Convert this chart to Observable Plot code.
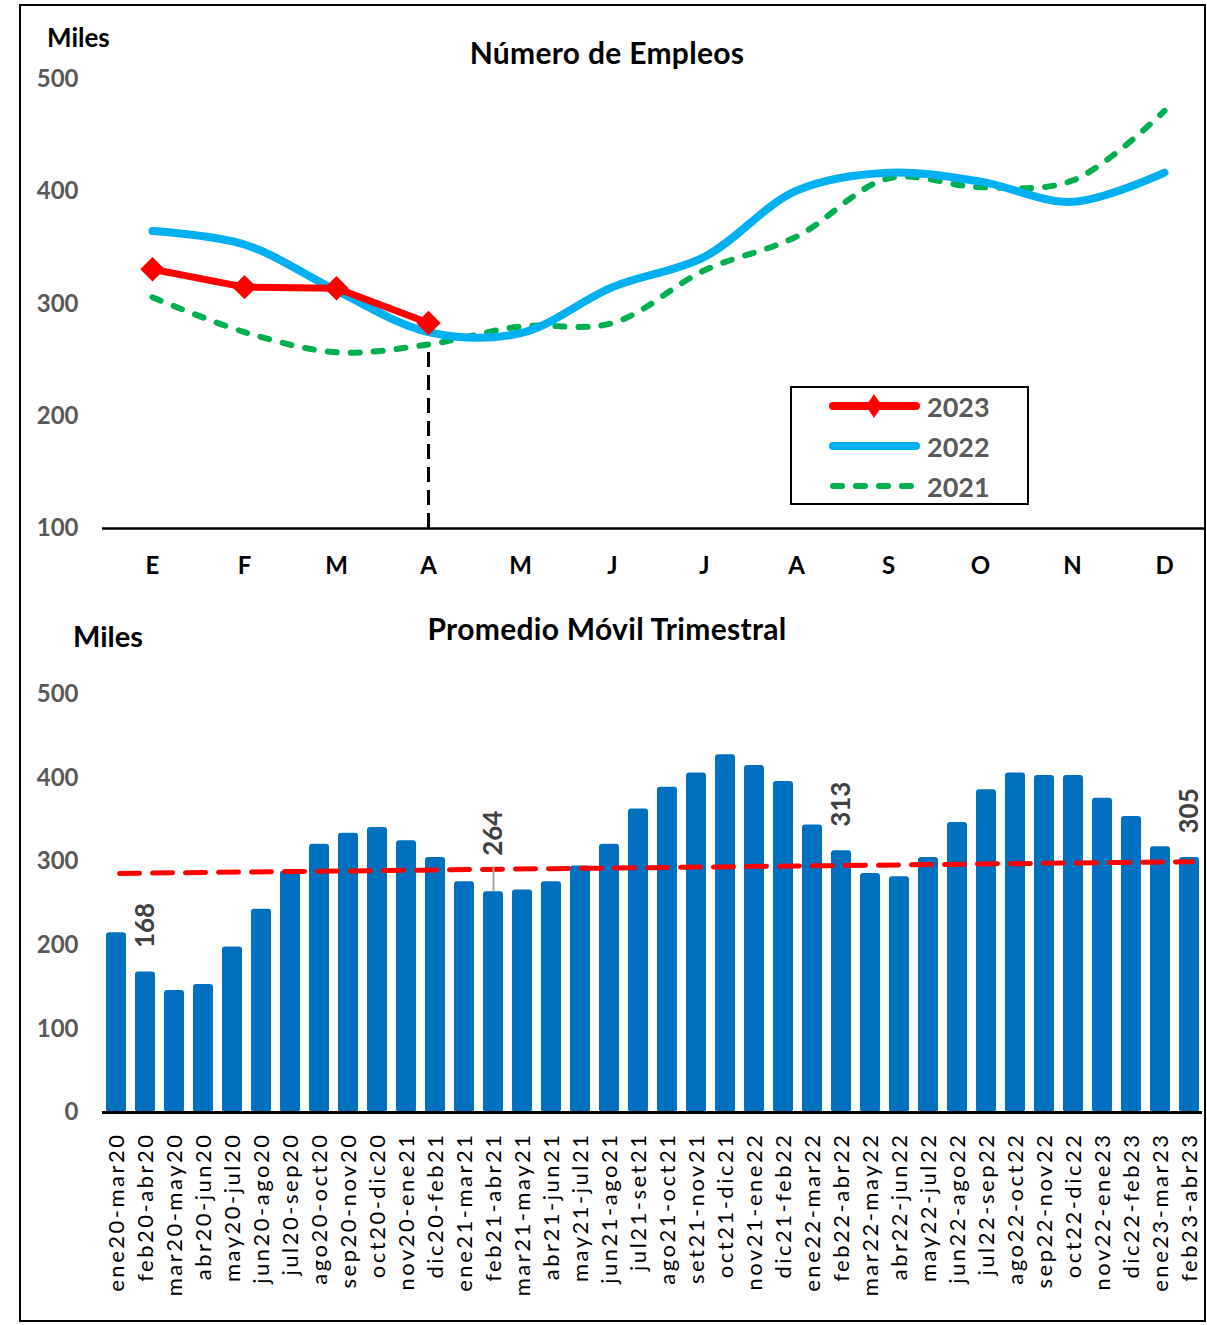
<!DOCTYPE html>
<html>
<head>
<meta charset="utf-8">
<script src="https://cdn.jsdelivr.net/npm/d3@7"></script>
<script src="https://cdn.jsdelivr.net/npm/@observablehq/plot@0.6"></script>
<style>
  html, body { margin: 0; padding: 0; background: #fff; }
  body { width: 1207px; height: 1325px; position: relative; overflow: hidden; font-family: Lato, "Open Sans", sans-serif; }
  #frame { position: absolute; left: 19px; top: 4px; width: 1187px; height: 1318px; border: 2px solid #000; box-sizing: border-box; }
  .abs { position: absolute; }
  .title { font-weight: bold; font-size: 30px; letter-spacing: 0.3px; color: #000; white-space: nowrap; transform: translate(-50%, -50%); }
  .miles { font-weight: bold; font-size: 26px; color: #000; transform: translateY(-50%); }
  #legend { left: 790px; top: 386px; width: 239px; height: 119px; border: 2px solid #000; box-sizing: border-box; background: #fff; }
  #legend .row { position: absolute; left: 0; height: 40px; }
  #legend .lab { position: absolute; left: 135px; font-weight: bold; font-size: 27px; color: #595959; transform: translateY(-50%); }
  #top, #bottom { position: absolute; left: 0; }
  #bottom g[aria-label="x-axis tick label"] text { letter-spacing: 2.5px; }
</style>
</head>
<body>
<div id="frame"></div>
<div id="top"></div>
<div id="bottom" style="top:600px"></div>
<div class="abs miles" style="left:47px; top:37px;">Miles</div>
<div class="abs title" style="left:607px; top:52px;">Número de Empleos</div>
<div class="abs miles" style="left:73px; top:635px; font-size:29px;">Miles</div>
<div class="abs title" style="left:607px; top:628px;">Promedio Móvil Trimestral</div>
<div id="legend" class="abs"></div>
<script>
// ---------- Data: top chart ----------
const monthLabels = ["E", "F", "M", "A", "M", "J", "J", "A", "S", "O", "N", "D"];
const v2023 = [331, 315, 314, 283];
const v2022 = [365, 353, 312, 275, 274, 315, 342, 401, 417, 409, 391, 417];
const v2021 = [306, 275, 257, 264, 280, 283, 330, 360, 412, 404, 410, 472];
const seriesNames = ["2023", "2022", "2021"];
const seriesColors = ["#FF0000", "#00B0F0", "#00B050"];
const topTicks = [100, 200, 300, 400, 500];

// ---------- Data: bottom chart ----------
const periods = [
  "ene20-mar20", "feb20-abr20", "mar20-may20", "abr20-jun20", "may20-jul20", "jun20-ago20",
  "jul20-sep20", "ago20-oct20", "sep20-nov20", "oct20-dic20", "nov20-ene21", "dic20-feb21",
  "ene21-mar21", "feb21-abr21", "mar21-may21", "abr21-jun21", "may21-jul21", "jun21-ago21",
  "jul21-set21", "ago21-oct21", "set21-nov21", "oct21-dic21", "nov21-ene22", "dic21-feb22",
  "ene22-mar22", "feb22-abr22", "mar22-may22", "abr22-jun22", "may22-jul22", "jun22-ago22",
  "jul22-sep22", "ago22-oct22", "sep22-nov22", "oct22-dic22", "nov22-ene23", "dic22-feb23",
  "ene23-mar23", "feb23-abr23"
];
const avgValues = [
  215, 168, 146, 153, 198, 243, 289, 321, 334, 341, 325, 305,
  276, 264, 266, 276, 295, 321, 363, 389, 406, 428, 415, 396,
  344, 313, 286, 282, 305, 347, 386, 406, 403, 403, 376, 354,
  318, 305
];
const trendValues = [286, 300]; // start and end of trend line
const labeledIdx = [1, 25, 37];
const leaderIdx = [13];
const bottomTicks = [0, 100, 200, 300, 400, 500];

const FONT = "Lato, 'Open Sans', sans-serif";

// ---------- Top chart ----------
const rows = [];
v2023.forEach((v, i) => rows.push({s: "2023", i, v}));
v2022.forEach((v, i) => rows.push({s: "2022", i, v}));
v2021.forEach((v, i) => rows.push({s: "2021", i, v}));
const r23 = rows.filter(d => d.s === "2023");
const r22 = rows.filter(d => d.s === "2022");
const r21 = rows.filter(d => d.s === "2021");

const topPlot = Plot.plot({
  width: 1207,
  height: 600,
  marginLeft: 102,
  marginRight: 2,
  marginTop: 79,
  marginBottom: 72,
  style: {fontFamily: FONT, background: "transparent", overflow: "visible"},
  x: {type: "point", domain: d3.range(monthLabels.length), range: [148, 1168], padding: 0, axis: null},
  y: {domain: [100, 500], axis: null},
  marks: [
    Plot.axisY(topTicks, {label: null, tickSize: 0, tickPadding: 24, fontSize: 24, fontWeight: "bold", fill: "#595959", stroke: "#000", strokeWidth: 2, line: true}),
    Plot.axisX(d3.range(monthLabels.length), {label: null, tickSize: 0, tickPadding: 28, fontSize: 24, fontWeight: "bold", fill: "#000", tickFormat: i => monthLabels[i]}),
    Plot.ruleY([100], {stroke: "#000", strokeWidth: 2.5}),
    Plot.ruleX([3], {y1: 100, y2: v2021[3], stroke: "#000", strokeWidth: 3, strokeDasharray: "15,8"}),
    Plot.line(r21, {x: "i", y: "v", curve: "catmull-rom", stroke: seriesColors[2], strokeWidth: 6, strokeDasharray: "9,14", strokeLinecap: "round"}),
    Plot.line(r22, {x: "i", y: "v", curve: "catmull-rom", stroke: seriesColors[1], strokeWidth: 8, strokeLinecap: "round"}),
    Plot.line(r23, {x: "i", y: "v", stroke: seriesColors[0], strokeWidth: 7, strokeLinecap: "round"}),
    Plot.dot(r23, {x: "i", y: "v", symbol: "diamond2", r: 11, fill: seriesColors[0], stroke: null})
  ]
});
document.getElementById("top").appendChild(topPlot);

// ---------- Legend ----------
const legend = document.getElementById("legend");
seriesNames.forEach((name, k) => {
  const cy = 18 + k * 40;
  const row = document.createElement("div");
  row.className = "row";
  row.style.top = (cy - 20) + "px";
  row.style.width = "235px";
  const dash = k === 2 ? 'stroke-dasharray="9,14"' : "";
  const w = k === 2 ? 6 : 8;
  const diamond = k === 0 ? `<path d="M82,8 L90,20 L82,32 L74,20 Z" fill="${seriesColors[0]}"/>` : "";
  row.innerHTML = `<svg width="130" height="40" style="position:absolute;left:0;top:0">
      <line x1="41" y1="20" x2="124" y2="20" stroke="${seriesColors[k]}" stroke-width="${w}" stroke-linecap="round" ${dash}/>
      ${diamond}
    </svg><div class="lab" style="top:20px">${name}</div>`;
  legend.appendChild(row);
});

// ---------- Bottom chart ----------
const bars = periods.map((p, i) => ({p, v: avgValues[i]}));
const trend = [
  {p: periods[0], v: trendValues[0]},
  {p: periods[periods.length - 1], v: trendValues[1]}
];
const labeled = labeledIdx.map(i => bars[i]);
const leader = leaderIdx.map(i => bars[i]);

const bottomPlot = Plot.plot({
  width: 1207,
  height: 725,
  marginLeft: 102,
  marginRight: 5,
  marginTop: 94,
  marginBottom: 213,
  style: {fontFamily: FONT, background: "transparent", overflow: "visible"},
  x: {type: "band", domain: periods, range: [101, 1204], paddingInner: 0.32, paddingOuter: 0.1, axis: null},
  y: {domain: [0, 500], axis: null},
  marks: [
    Plot.axisY(bottomTicks, {label: null, tickSize: 0, tickPadding: 24, fontSize: 24, fontWeight: "bold", fill: "#595959", stroke: "#000", strokeWidth: 2, line: true}),
    Plot.axisX(periods, {label: null, tickSize: 0, tickPadding: 20, tickRotate: -90, fontSize: 22, fill: "#000"}),
    Plot.barY(bars, {x: "p", y: "v", fill: "#0070C0", rx: 3}),
    Plot.ruleY([0], {stroke: "#000", strokeWidth: 3}),
    Plot.line(trend, {x: "p", y: "v", stroke: "#FF0000", strokeWidth: 5, strokeDasharray: "20,13", dx: 3}),
    Plot.text(labeled, {x: "p", y: "v", text: d => String(d.v), rotate: -90, textAnchor: "start", dy: -24, fontSize: 26, fontWeight: "bold", fill: "#404040"}),
    Plot.ruleX(leader, {x: "p", y1: "v", y2: d => d.v + 30, stroke: "#A6A6A6", strokeWidth: 2}),
    Plot.text(leader, {x: "p", y: "v", text: d => String(d.v), rotate: -90, textAnchor: "start", dy: -36, fontSize: 26, fontWeight: "bold", fill: "#404040"})
  ]
});
document.getElementById("bottom").appendChild(bottomPlot);
</script>
</body>
</html>
